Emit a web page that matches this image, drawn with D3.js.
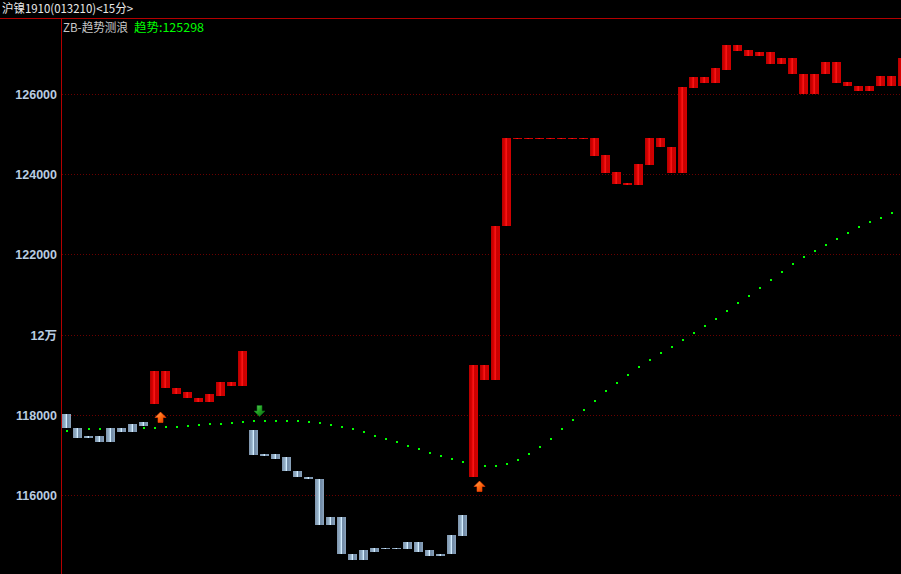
<!DOCTYPE html>
<html><head><meta charset="utf-8">
<script src="https://cdn.jsdelivr.net/npm/d3@7"></script>
<style>html,body{margin:0;padding:0;background:#000;overflow:hidden}svg{display:block}</style>
</head><body>
<svg id="c" width="901" height="574"></svg>
<script>
// ---- data ----
const title = "沪镍1910(013210)<15分>";
const legendName = "ZB-趋势测浪";
const legendValue = "趋势:125298";
const yTicks = [116000, 118000, 120000, 122000, 124000, 126000];
const yTickLabels = ["116000", "118000", "12万", "122000", "124000", "126000"];

const bodyTop = [118030,117680,117480,117480,117660,117660,117760,117830,119100,119100,
  118680,118560,118430,118510,118810,118810,119580,117630,117010,117010,
  116940,116610,116460,116410,115440,115440,114540,114620,114690,114690,
  114690,114840,114840,114620,114540,115010,115490,119250,119250,122720,
  124910,124910,124910,124910,124910,124910,124910,124910,124910,124470,
  124050,123770,124250,124910,124910,124690,126170,126420,126420,126640,
  127210,127210,127090,127040,127040,126890,126890,126510,126510,126810,
  126810,126290,126190,126190,126460,126460,126910];
const bodyBottom = [117660,117410,117410,117310,117310,117560,117560,117730,118260,118660,
  118530,118410,118310,118310,118480,118710,118710,116990,116985,116910,
  116590,116440,116390,115260,115260,114520,114390,114390,114590,114665,
  114665,114665,114590,114470,114470,114520,114990,116440,118880,118880,
  122700,124890,124890,124890,124890,124890,124890,124890,124450,124020,
  123750,123720,123720,124220,124670,124020,124020,126140,126270,126270,
  126610,127060,126960,126960,126740,126740,126490,125990,125990,126490,
  126270,126190,126070,126070,126190,126190,126190];
// trend state: 1 = up (red), -1 = down (blue)
const trendState = [-1,-1,-1,-1,-1,-1,-1,-1,1,1,1,1,1,1,1,1,1,
  -1,-1,-1,-1,-1,-1,-1,-1,-1,-1,-1,-1,-1,-1,-1,-1,-1,-1,-1,-1,
  1,1,1,1,1,1,1,1,1,1,1,1,1,1,1,1,1,1,1,1,1,1,1,1,1,1,1,1,1,1,1,1,1,1,1,1,1,1,1,1,1,1];
const trendLine = [117616,117640,117666,117666,117666,117666,117680,117691,117691,117716,
  117716,117741,117766,117791,117791,117815,117840,117865,117865,117865,
  117865,117865,117840,117815,117766,117716,117666,117591,117491,117416,
  117342,117242,117167,117067,116993,116918,116843,116760,116749,116749,
  116793,116893,117042,117217,117416,117666,117890,118140,118364,118613,
  118813,119012,119212,119387,119561,119711,119885,120060,120234,120409,
  120608,120808,120983,121182,121382,121581,121781,121955,122105,122254,
  122404,122554,122703,122828,122928,123052,123180];
const signalIndex = [8, 17, 37];
const signalType = ["up", "down", "up"];
const signalValue = [118082, 117963, 116337];

// ---- layout ----
const W = 901, H = 574;
const svg = d3.select("#c");
svg.append("rect").attr("width", W).attr("height", H).attr("fill", "#000");

const n = bodyTop.length;
const x = d3.scaleBand().domain(d3.range(n)).range([61, 61 + n * 11])
  .paddingInner(2 / 11).paddingOuter(1 / 11);
const y = d3.scaleLinear().domain([116000, 126000]).range([495, 94]);

const defs = svg.append("defs");
const gRed = defs.append("linearGradient").attr("id", "gRed").attr("x1", 0).attr("x2", 1).attr("y1", 0).attr("y2", 0);
[[0,"#b40000"],[0.3,"#d80000"],[0.48,"#ff1818"],[0.62,"#c80000"],[1,"#d20000"]]
  .forEach(s => gRed.append("stop").attr("offset", s[0]).attr("stop-color", s[1]));
const gBlue = defs.append("linearGradient").attr("id", "gBlue").attr("x1", 0).attr("x2", 1).attr("y1", 0).attr("y2", 0);
[[0,"#7e94ac"],[0.35,"#94b0c8"],[0.5,"#d4eeff"],[0.62,"#6c86a2"],[1,"#8ca4bc"]]
  .forEach(s => gBlue.append("stop").attr("offset", s[0]).attr("stop-color", s[1]));
const gOrange = defs.append("linearGradient").attr("id", "gOr").attr("x1", 0).attr("x2", 1).attr("y1", 0).attr("y2", 1);
[[0,"#ffb060"],[0.5,"#ff6a10"],[1,"#d03800"]]
  .forEach(s => gOrange.append("stop").attr("offset", s[0]).attr("stop-color", s[1]));
const gGreen = defs.append("linearGradient").attr("id", "gGr").attr("x1", 0).attr("x2", 1).attr("y1", 0).attr("y2", 1);
[[0,"#60d060"],[0.5,"#20a020"],[1,"#0a6010"]]
  .forEach(s => gGreen.append("stop").attr("offset", s[0]).attr("stop-color", s[1]));

// frame lines
svg.append("line").attr("x1", 0).attr("x2", W).attr("y1", 18.5).attr("y2", 18.5)
  .attr("stroke", "#b40000").attr("stroke-width", 1);
svg.append("line").attr("x1", 61.5).attr("x2", 61.5).attr("y1", 18).attr("y2", H)
  .attr("stroke", "#b40000").attr("stroke-width", 1);

// grid
svg.append("g").selectAll("line").data(yTicks).join("line")
  .attr("x1", 62).attr("x2", W)
  .attr("y1", d => Math.round(y(d)) + 0.5).attr("y2", d => Math.round(y(d)) + 0.5)
  .attr("stroke", "#6a0000").attr("stroke-width", 1).attr("stroke-dasharray", "1,2");

// y axis labels
const axis = d3.axisLeft(y).tickValues(yTicks).tickSize(0).tickPadding(0)
  .tickFormat((d, i) => yTickLabels[yTicks.indexOf(d)]);
const ax = svg.append("g").attr("transform", "translate(57,0.5)").call(axis);
ax.select(".domain").remove();
ax.selectAll("text").attr("fill", "#b8cce0").attr("font-family", "Arial, 'Liberation Sans', 'Noto Sans CJK SC', sans-serif")
  .attr("font-size", "12.5px").attr("font-weight", "bold");

// plot clip
defs.append("clipPath").attr("id", "plot").append("rect").attr("x", 62).attr("y", 19).attr("width", W - 62).attr("height", H - 19);
const plot = svg.append("g").attr("clip-path", "url(#plot)");

// trend dots (below bars)
plot.append("g").selectAll("rect").data(trendLine).join("rect")
  .attr("x", (d, i) => Math.round(x(i) + x.bandwidth() / 2) - 1)
  .attr("y", d => Math.round(y(d)))
  .attr("width", 2).attr("height", 2).attr("fill", "#00ff00");

// bars
plot.append("g").selectAll("rect").data(bodyTop).join("rect")
  .attr("x", (d, i) => x(i))
  .attr("width", x.bandwidth())
  .attr("y", d => Math.round(y(d)))
  .attr("height", (d, i) => Math.max(1, Math.round(y(bodyBottom[i])) - Math.round(y(d))))
  .attr("fill", (d, i) => trendState[i] > 0 ? "url(#gRed)" : "url(#gBlue)");

// signal arrows
const arrows = plot.append("g");
signalIndex.forEach((idx, k) => {
  const cx = x(idx) + x.bandwidth() / 2 + 6;
  const t = Math.round(y(signalValue[k]));
  let p;
  if (signalType[k] === "up") {
    p = [[cx, t], [cx + 5.5, t + 5.5], [cx + 2.5, t + 5.5], [cx + 2.5, t + 10.5],
         [cx - 2.5, t + 10.5], [cx - 2.5, t + 5.5], [cx - 5.5, t + 5.5]];
  } else {
    p = [[cx, t + 0.5], [cx + 5.5, t - 5], [cx + 2.5, t - 5], [cx + 2.5, t - 10.5],
         [cx - 2.5, t - 10.5], [cx - 2.5, t - 5], [cx - 5.5, t - 5]];
  }
  arrows.append("path").attr("d", d3.line()(p) + "Z")
    .attr("fill", signalType[k] === "up" ? "url(#gOr)" : "url(#gGr)")
    .attr("stroke", signalType[k] === "up" ? "#ff4000" : "#0c7018").attr("stroke-width", 0.6);
});

// texts
const cjk = "'Noto Sans CJK SC', 'DejaVu Sans', sans-serif";
svg.append("text").attr("x", 2).attr("y", 13).text(title)
  .attr("textLength", 131).attr("lengthAdjust", "spacingAndGlyphs")
  .attr("fill", "#e8e8e8").attr("font-family", cjk).attr("font-size", "12px");
svg.append("text").attr("x", 63).attr("y", 32).text(legendName)
  .attr("textLength", 65).attr("lengthAdjust", "spacingAndGlyphs")
  .attr("fill", "#c8c8c8").attr("font-family", cjk).attr("font-size", "12px");
svg.append("text").attr("x", 134).attr("y", 32).text(legendValue)
  .attr("textLength", 70).attr("lengthAdjust", "spacingAndGlyphs")
  .attr("fill", "#00ff00").attr("font-family", cjk).attr("font-size", "12px");
</script>
</body></html>
